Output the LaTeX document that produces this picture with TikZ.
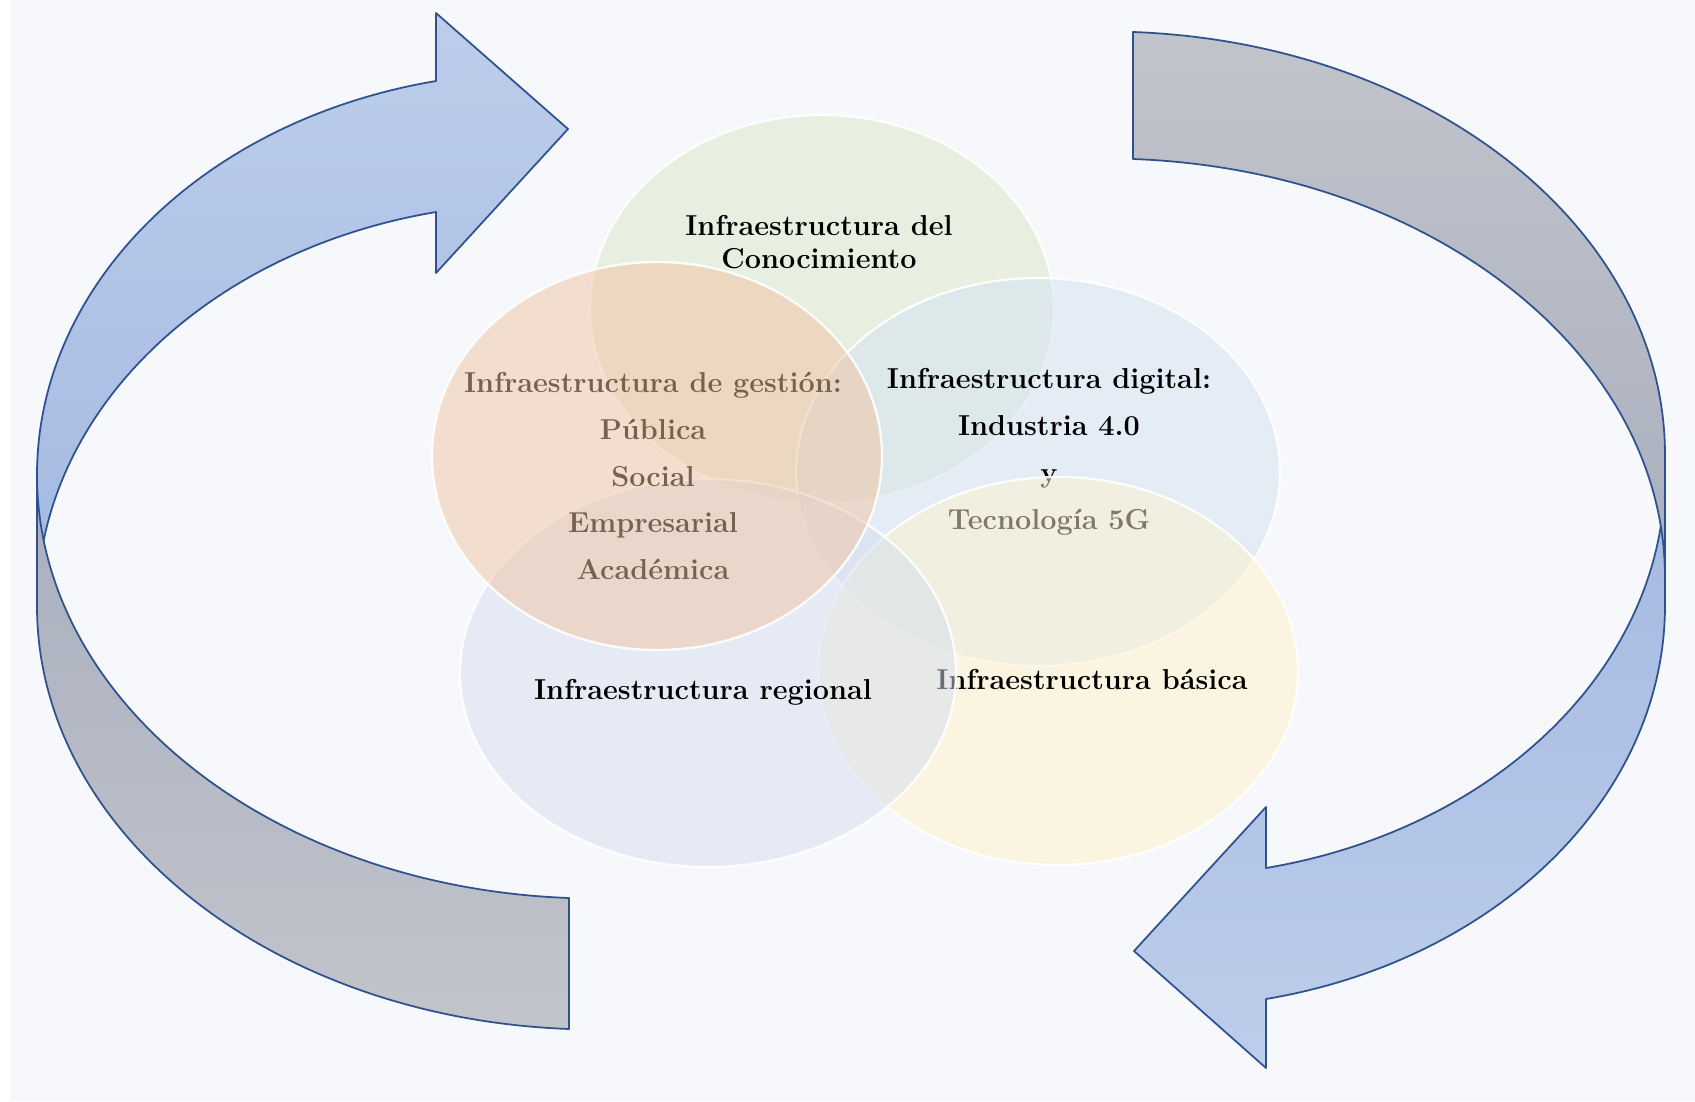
\documentclass[tikz,border=0pt]{standalone}
\usepackage{xcolor}
\usepackage{tikz}
\usetikzlibrary{shapes.geometric,positioning}

\definecolor{fondo}{HTML}{F6F8FB}
\definecolor{contorno}{HTML}{2F528F}
\definecolor{azulclaro}{HTML}{BDCEEB}
\definecolor{azuloscuro}{HTML}{A4B8E1}
\definecolor{grisclaro}{HTML}{C2C4CB}
\definecolor{grisoscuro}{HTML}{A9AFBF}
\definecolor{verde}{HTML}{DBE8C9}
\definecolor{naranja}{HTML}{F0C3A2}
\definecolor{celeste}{HTML}{D3E2F3}
\definecolor{amarillo}{HTML}{FFF2C9}
\definecolor{lila}{HTML}{D5DEEF}

\begin{document}
\begin{tikzpicture}[
        x=0.2mm, y=-0.2mm,
        font=\fontsize{16.4}{18.8}\selectfont\bfseries,
        banda/.style 2 args={draw=contorno, line width=1pt, line join=round, top color=#1, bottom color=#2},
        bubble/.style={ellipse, draw=white, line width=1.3pt, fill opacity=0.5, draw opacity=0.9, inner sep=0pt, minimum height=77.6mm},
        etiqueta/.style={align=center, inner sep=0pt},
        lista/.style={etiqueta, font=\fontsize{16.4}{26.7}\selectfont\bfseries}
    ]

    % FONDO
    \useasboundingbox (0,0) rectangle (1695,1101);
    \fill[white] (0,0) rectangle (1695,1101);
    \fill[fondo] (10,0) rectangle (1695,1101);

    % FLECHA IZQUIERDA (cara de atras)
    \draw[banda={azulclaro}{azuloscuro}]
        (436,81) .. controls (204,120) and (37,284) .. (37,475)
        -- (37,606) .. controls (37,415) and (204,251) .. (436,212)
        -- (436,273) -- (568,129) -- (436,13) -- cycle;

    % FLECHA IZQUIERDA (cara de adelante)
    \draw[banda={grisoscuro}{grisclaro}]
        (37,475) .. controls (37,701) and (271,887) .. (569,898)
        -- (569,1029) .. controls (271,1018) and (37,832) .. (37,606)
        -- cycle;

    % FLECHA DERECHA (cara de atras)
    \draw[banda={azuloscuro}{azulclaro}]
        (1266,999) .. controls (1498,960) and (1665,796) .. (1665,605)
        -- (1665,474) .. controls (1665,665) and (1498,829) .. (1266,868)
        -- (1266,807) -- (1134,951) -- (1266,1068) -- cycle;

    % FLECHA DERECHA (cara de adelante)
    \draw[banda={grisclaro}{grisoscuro}]
        (1133,32) .. controls (1431,43) and (1665,229) .. (1665,455)
        -- (1665,578) .. controls (1665,354) and (1431,170) .. (1133,159)
        -- cycle;

    % CONOCIMIENTO
    \node[bubble, fill=verde, minimum width=92.8mm] (conocim) at (822,309) {};
    \node[etiqueta] (txtconocim) at (819,242) {Infraestructura del\\Conocimiento};

    % DIGITAL
    \node[bubble, fill=celeste, minimum width=96.8mm] (digital) at (1038,472) {};
    \node[lista] (txtdigital) at (1049,452) {Infraestructura digital:\\Industria 4.0\\y\\Tecnología 5G};

    % BASICA
    \node[bubble, fill=amarillo, minimum width=96mm] (basica) at (1058,671) {};
    \node[etiqueta] (txtbasica) at (1092,679) {Infraestructura básica};

    % REGIONAL
    \node[bubble, fill=lila, minimum width=99.2mm] (regional) at (708,673) {};
    \node[etiqueta] (txtregional) at (703,692) {Infraestructura regional};

    % GESTION (texto bajo la elipse naranja)
    \node[lista] (txtgestion) at (653,476) {Infraestructura de gestión:\\Pública\\Social\\Empresarial\\Académica};
    \node[bubble, fill=naranja, minimum width=90mm] (gestion) at (657,456) {};

\end{tikzpicture}
\end{document}
